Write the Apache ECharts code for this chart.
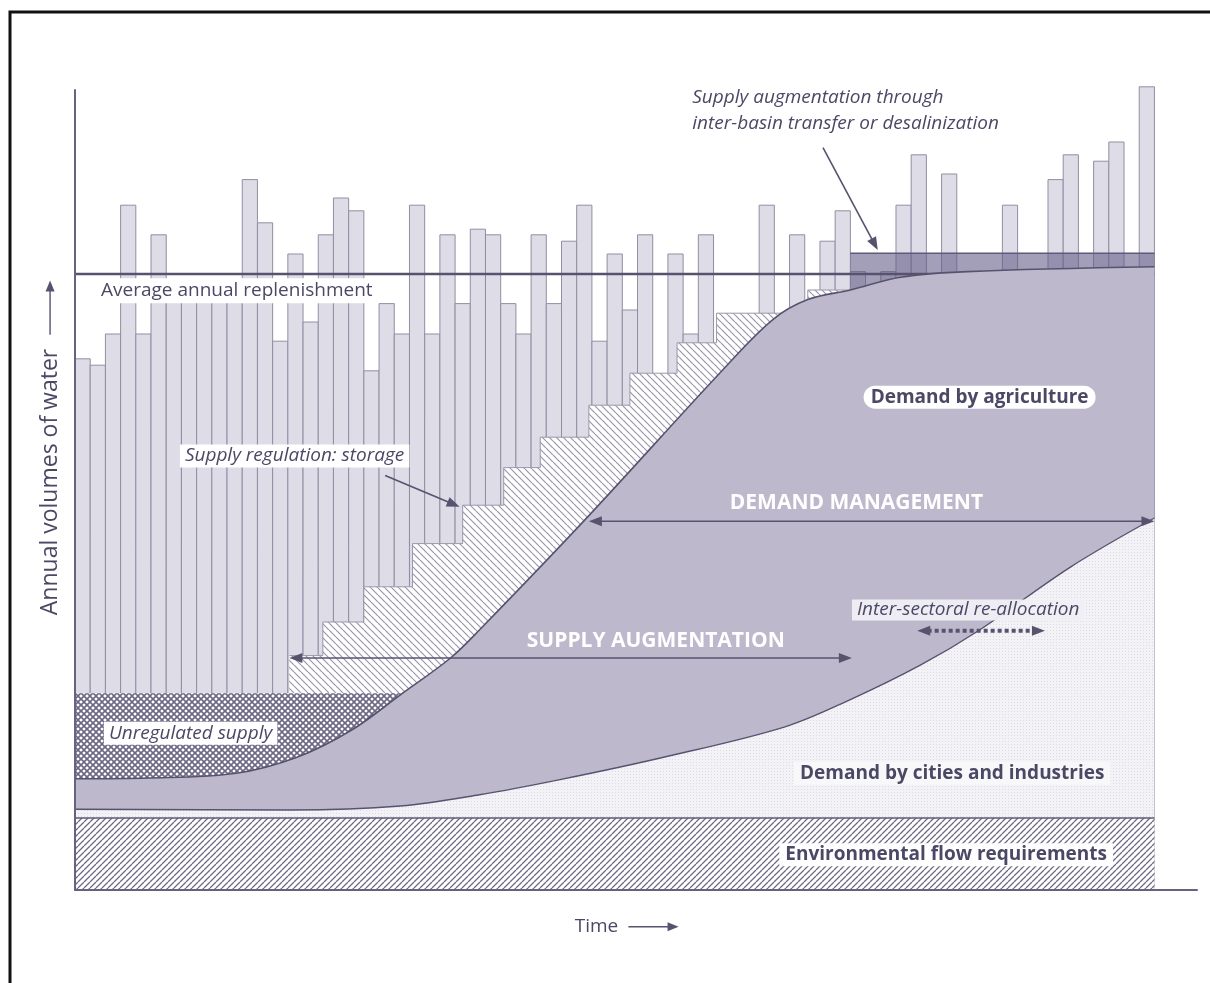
<!DOCTYPE html>
<html>
<head>
<meta charset="utf-8">
<title>Water supply and demand</title>
<script src="https://cdn.jsdelivr.net/npm/echarts/dist/echarts.min.js"></script>
<style>
  html, body { margin: 0; padding: 0; background: #fff; }
  #chart { width: 1210px; height: 983px; }
</style>
</head>
<body>
<div id="chart"></div>
<script>
// annual supply, one bar per year (index = year)
const barValues = [
  66.4, 65.6, 69.5, 85.6, 69.5, 81.9, 75.5, 74.8, 75.5, 74.5,
  75.2, 88.8, 83.4, 68.6, 79.5, 71.0, 81.9, 86.5, 84.9, 64.9,
  73.3, 69.5, 85.6, 69.5, 81.9, 73.3, 82.6, 81.9, 73.3, 69.5,
  81.9, 73.3, 81.1, 85.6, 68.6, 79.5, 72.5, 81.9, 62.0, 79.5,
  69.5, 81.9, 66.0, 70.0, 69.0, 85.6, 71.0, 81.9, 71.5, 81.1,
  84.9, 77.3, 74.0, 77.3, 85.6, 91.9, 75.5, 89.5, 75.0, 76.0,
  74.5, 85.6, 75.5, 76.0, 88.8, 91.9, 75.5, 91.1, 93.5, 76.0,
  100.4
];
const replenishment = 77;

// storage staircase: start year of each step and its level
const stepStart = [14.1, 16.3, 19.0, 22.2, 25.5, 28.2, 30.6, 33.8, 36.5, 39.6, 42.2, 48.2];
const stepTop   = [29.3, 33.5, 37.9, 43.3, 48.1, 52.8, 56.6, 60.6, 64.6, 68.4, 72.1, 75.0];
const stepEnd = 51.0;

// top of agricultural demand
const agriX = [0, 4.9, 10.6, 14.6, 18.2, 21.4, 24.7, 26.6, 33.8, 42.6, 45.9, 48.2, 51.0, 54.3, 58.7, 71.0];
const agriY = [13.9, 14.0, 14.6, 16.6, 20.0, 24.4, 29.0, 32.5, 46.8, 65.0, 71.3, 73.8, 75.0, 76.6, 77.3, 77.9];

// top of demand by cities and industries
const cityX = [0, 14.2, 21.4, 26.6, 31.9, 38.5, 46.7, 51.0, 55.6, 59.5, 65.5, 71.0];
const cityY = [10.1, 10.0, 10.5, 11.9, 13.8, 16.5, 20.4, 23.8, 28.1, 32.5, 40.4, 46.5];

const envLevel = 9;
const unregulatedLevel = 24.6;
const augmentStart = 51.0;
const augmentLevel = 79.6;
const lastYear = 71;

const ink = '#57536f';
const textInk = '#4b4866';

function pattern(size, draw) {
  const c = document.createElement('canvas');
  c.width = size; c.height = size;
  const ctx = c.getContext('2d');
  draw(ctx, size);
  return { image: c, repeat: 'repeat' };
}
function diag(ctx, s, dir) {
  ctx.beginPath();
  for (let k = -1; k <= 1; k++) {
    if (dir > 0) { ctx.moveTo(k * s, s); ctx.lineTo(k * s + s, 0); }
    else { ctx.moveTo(k * s, 0); ctx.lineTo(k * s + s, s); }
  }
  ctx.stroke();
}
const envHatch = pattern(6, (ctx, s) => {
  ctx.fillStyle = '#fff'; ctx.fillRect(0, 0, s, s);
  ctx.strokeStyle = '#6d6a85'; ctx.lineWidth = 1.3; diag(ctx, s, 1);
});
const storageHatch = pattern(7, (ctx, s) => {
  ctx.fillStyle = '#fff'; ctx.fillRect(0, 0, s, s);
  ctx.strokeStyle = '#9896a8'; ctx.lineWidth = 1.2; diag(ctx, s, -1);
});
const crossHatch = pattern(6, (ctx, s) => {
  ctx.fillStyle = '#fff'; ctx.fillRect(0, 0, s, s);
  ctx.strokeStyle = '#6c6884'; ctx.lineWidth = 1.6; diag(ctx, s, 1); diag(ctx, s, -1);
});
const cityDots = pattern(3, (ctx, s) => {
  ctx.fillStyle = '#f3f2f6'; ctx.fillRect(0, 0, s, s);
  ctx.fillStyle = '#dcdae3'; ctx.fillRect(0, 0, 1, 1);
});

const zip = (xs, ys) => xs.map((x, i) => [x, ys[i]]);

const notes = [
  { text: 'Average annual replenishment', at: [1.45, 74.9], align: 'left', font: '19px "Open Sans"', bg: '#fff', pad: [3, 4] },
  { text: 'Supply augmentation through\ninter-basin transfer or desalinization', at: [40.6, 97.4], align: 'left', font: 'italic 19px "Open Sans"', lh: 26 },
  { text: 'Supply regulation: storage', at: [6.9, 54.25], align: 'left', font: 'italic 19px "Open Sans"', bg: '#fff', pad: [2, 5] },
  { text: 'Unregulated supply', at: [1.9, 19.6], align: 'left', font: 'italic 19px "Open Sans"', bg: '#fff', pad: [2, 5] },
  { text: 'Demand by agriculture', at: [59.5, 61.6], align: 'center', font: 'bold 19px "Open Sans"', bg: '#fff', pad: [2, 7], radius: 14 },
  { text: 'DEMAND MANAGEMENT', at: [51.4, 48.4], align: 'center', font: 'bold 21px "Open Sans"', fill: '#fff' },
  { text: 'SUPPLY AUGMENTATION', at: [38.2, 31.1], align: 'center', font: 'bold 21px "Open Sans"', fill: '#fff' },
  { text: 'Inter-sectoral re-allocation', at: [58.75, 35.0], align: 'center', font: 'italic 19px "Open Sans"', bg: 'rgba(240,239,244,0.95)', pad: [1, 5] },
  { text: 'Demand by cities and industries', at: [57.7, 14.6], align: 'center', font: 'bold 19px "Open Sans"', bg: '#f8f8fa', pad: [2, 6] },
  { text: 'Environmental flow requirements', at: [57.3, 4.4], align: 'center', font: 'bold 19px "Open Sans"', bg: '#fff', pad: [2, 6] },
  { text: 'Time', at: [34.3, -4.6], align: 'center', font: '19px "Open Sans"' },
  { text: 'Annual volumes of water', at: [-1.64, 51.0], align: 'center', font: '23px "Open Sans"', rotate: Math.PI / 2 }
];

const arrows = [
  { from: [49.2, 92.8], to: [52.8, 80.0] },
  { from: [20.4, 51.8], to: [25.3, 47.9] },
  { from: [33.8, 46.1], to: [71.0, 46.1], both: true },
  { from: [14.1, 29.0], to: [51.1, 29.0], both: true },
  { from: [55.4, 32.4], to: [63.8, 32.4], both: true, dotted: true },
  { from: [36.4, -4.6], to: [39.7, -4.6], thin: true },
  { from: [-1.64, 69.4], to: [-1.64, 76.2], thin: true }
];

function renderBar(params, api) {
  const i = api.value(0), v = api.value(1);
  const p0 = api.coord([i, v]);
  const p1 = api.coord([i + 1, 0]);
  return {
    type: 'rect',
    shape: { x: p0[0], y: p0[1], width: p1[0] - p0[0], height: p1[1] - p0[1] },
    style: { fill: '#dedce7', stroke: '#918ea3', lineWidth: 1 }
  };
}

function renderNote(params, api) {
  const n = notes[params.dataIndex];
  const p = api.coord(n.at);
  return {
    type: 'text', x: p[0], y: p[1], rotation: n.rotate || 0,
    style: {
      text: n.text, fill: n.fill || textInk, font: n.font,
      align: n.align, verticalAlign: 'middle',
      backgroundColor: n.bg, padding: n.pad || 0,
      borderRadius: n.radius || 0, lineHeight: n.lh
    }
  };
}

function renderArrow(params, api) {
  const a = arrows[params.dataIndex];
  const p0 = api.coord(a.from), p1 = api.coord(a.to);
  const dx = p1[0] - p0[0], dy = p1[1] - p0[1];
  const len = Math.hypot(dx, dy), ux = dx / len, uy = dy / len;
  const hl = a.thin ? 11 : 13, hw = a.thin ? 4.5 : 5;
  const head = (t, vx, vy) => ({
    type: 'polygon',
    shape: { points: [
      [t[0], t[1]],
      [t[0] - vx * hl - vy * hw, t[1] - vy * hl + vx * hw],
      [t[0] - vx * hl + vy * hw, t[1] - vy * hl - vx * hw]
    ] },
    style: { fill: ink }
  });
  const s = a.both ? [p0[0] + ux * hl * 0.8, p0[1] + uy * hl * 0.8] : p0;
  const e = [p1[0] - ux * hl * 0.8, p1[1] - uy * hl * 0.8];
  const children = [{
    type: 'line',
    shape: { x1: s[0], y1: s[1], x2: e[0], y2: e[1] },
    style: a.dotted
      ? { stroke: ink, lineWidth: 4, lineDash: [4, 3] }
      : { stroke: ink, lineWidth: a.thin ? 1.4 : 1.6 }
  }, head(p1, ux, uy)];
  if (a.both) children.push(head(p0, -ux, -uy));
  return { type: 'group', children };
}

const areaLine = (name, data, z, fill, line, extra) => Object.assign({
  name, type: 'line', data, z, symbol: 'none', silent: true,
  lineStyle: line || { width: 0 },
  areaStyle: { color: fill, opacity: 1 }
}, extra || {});

const chart = echarts.init(document.getElementById('chart'));
chart.setOption({
  animation: false,
  backgroundColor: '#fff',
  grid: { left: 75, right: 13, top: 90, bottom: 93 },
  xAxis: {
    type: 'value', min: 0, max: 73.8, z: 10,
    axisLine: { show: true, lineStyle: { color: '#67637e', width: 2 } },
    axisTick: { show: false }, axisLabel: { show: false }, splitLine: { show: false }
  },
  yAxis: {
    type: 'value', min: 0, max: 100, z: 10,
    axisLine: { show: true, lineStyle: { color: '#67637e', width: 2 } },
    axisTick: { show: false }, axisLabel: { show: false }, splitLine: { show: false }
  },
  graphic: [{
    type: 'rect', z: 100, silent: true,
    shape: { x: 10, y: 12, width: 1215, height: 990 },
    style: { fill: 'none', stroke: '#111', lineWidth: 3 }
  }],
  series: [
    { name: 'Annual supply', type: 'custom', z: 1, clip: false, renderItem: renderBar,
      data: barValues.map((v, i) => [i, v]) },
    areaLine('Augmentation', [[augmentStart, augmentLevel], [lastYear, augmentLevel]], 2,
      'rgba(96,89,132,0.58)', { color: '#5f5a7b', width: 1.5 }),
    { name: 'Average annual replenishment', type: 'line', z: 3, symbol: 'none', silent: true,
      data: [[0, replenishment], [lastYear, replenishment]],
      lineStyle: { color: ink, width: 2.6 } },
    areaLine('Storage', zip(stepStart, stepTop).concat([[stepEnd, stepTop[stepTop.length - 1]]]), 4,
      storageHatch, { color: '#9a98aa', width: 1 }, { step: 'end' }),
    areaLine('Unregulated supply', [[0, unregulatedLevel], [25, unregulatedLevel]], 5, crossHatch),
    areaLine('Demand by agriculture', zip(agriX, agriY), 6, '#bdb8cc',
      { color: ink, width: 1.6 }, { smooth: 0.35 }),
    areaLine('Demand by cities and industries', zip(cityX, cityY), 7, cityDots,
      { color: ink, width: 1.4 }, { smooth: 0.35 }),
    areaLine('Environmental flow requirements', [[0, envLevel], [lastYear, envLevel]], 8, envHatch,
      { color: '#5d5a74', width: 1.6 }),
    { name: 'arrows', type: 'custom', z: 19, clip: false, silent: true, renderItem: renderArrow,
      data: arrows.map(a => a.from) },
    { name: 'notes', type: 'custom', z: 20, clip: false, silent: true, renderItem: renderNote,
      data: notes.map(n => n.at) }
  ]
});
</script>
</body>
</html>
